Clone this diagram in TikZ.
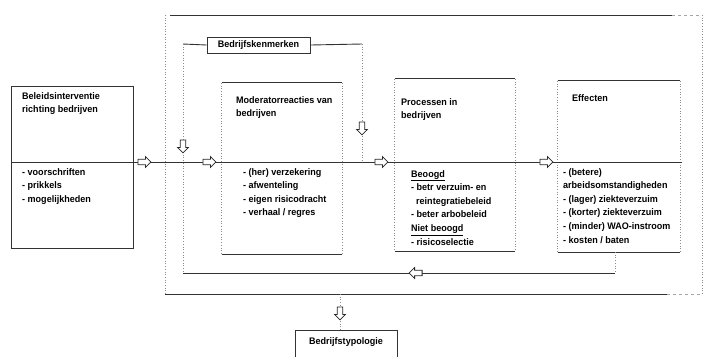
\documentclass[tikz,border=0pt]{standalone}
\usepackage{fontspec}
\setmainfont{Liberation Sans}[FakeStretch=0.95]
\usetikzlibrary{shapes.arrows}

\tikzset{
  lijn/.style={line width=0.9pt, black!80},
  stip/.style={dotted, line width=0.7pt, black!45},
  streep/.style={dashed, line width=0.6pt, black!35},
  tekst/.style={anchor=north west, align=left, inner sep=0pt, font=\fontsize{9.5}{13.6}\selectfont\bfseries},
  vak/.style={inner sep=0pt},
  pijl/.style={single arrow, draw=black!85, fill=white, line width=0.8pt, minimum height=13pt, minimum width=11pt, single arrow head extend=2.5pt, inner sep=2.2pt}
}

\begin{document}
\begin{tikzpicture}[x=1pt,y=-1pt]
	\useasboundingbox (0,0) rectangle (704,357);

	\coordinate (o1) at (165,15);
	\coordinate (o2) at (702,15);
	\coordinate (o3) at (702,294);
	\coordinate (o4) at (165,294);
	\draw[lijn] (170,15) -- (672,15);
	\draw[streep] (672,15) -- (o2);
	\draw[stip] (o2) -- (o3);
	\draw[lijn] (o4) -- (667,294);
	\draw[streep] (667,294) -- (o3);
	\draw[stip] (o1) -- (o4);

	\node[vak, minimum width=121, minimum height=161] (beleid) at (72.5,167.5) {};
	\node[vak, minimum width=120, minimum height=171] (mod) at (282,168.5) {};
	\node[vak, minimum width=120, minimum height=172] (proc) at (455,165) {};
	\node[vak, minimum width=122, minimum height=171] (eff) at (619,166.5) {};
	\node[vak, draw, lijn, minimum width=103, minimum height=16, text=black, font=\fontsize{9.5}{12}\selectfont\bfseries] (bkm) at (258.5,45) {Bedrijfskenmerken};

	\draw[lijn] (beleid.north west) rectangle (beleid.south east);
	\foreach \b in {mod,proc,eff} {
		\draw[lijn] (\b.north west) -- (\b.north east);
		\draw[lijn] (\b.south west) -- (\b.south east);
		\draw[stip] (\b.north west) -- (\b.south west);
		\draw[stip] (\b.north east) -- (\b.south east);
	}

	\coordinate (ml) at (12,162);
	\coordinate (mr) at (682,162);
	\draw[lijn] (ml) -- (mr);

	\coordinate (k1) at (183,44);
	\coordinate (k2) at (362,44);
	\coordinate (k3) at (362,162);
	\coordinate (k4) at (183,273);
	\coordinate (k5) at (615,273);
	\coordinate (k6) at (615,252);
	\draw[lijn] (k1) -- (bkm.west);
	\draw[lijn] (bkm.east) -- (k2);
	\draw[stip] (k1) -- (k4);
	\draw[stip] (k2) -- (k3);
	\draw[lijn] (k4) -- (k5);
	\draw[stip] (k6) -- (k5);

	\node[vak] (btyp) at (346,343.5) {};
	\draw[lijn] (295,357) |- (397,330) -- (397,357);
	\node[tekst, anchor=center] (btyptxt) at (346,342) {Bedrijfstypologie};
	\coordinate (t1) at (340,294);
	\coordinate (t2) at (340,330);
	\draw[stip] (t1) -- (t2);

	\node[pijl] (p1) at (143,162) {};
	\node[pijl] (p2) at (208,162) {};
	\node[pijl] (p3) at (380,162) {};
	\node[pijl] (p4) at (545,162) {};
	\node[pijl, shape border rotate=270] (p5) at (183,145) {};
	\node[pijl, shape border rotate=270] (p6) at (362,127) {};
	\node[pijl, shape border rotate=180] (p7) at (417,273) {};
	\node[pijl, shape border rotate=270] (p8) at (340,312) {};

	\node[tekst] (beleidkop) at (22,92) {Beleidsinterventie\\richting bedrijven};
	\node[tekst] (beleidlijst) at (22,168) {- voorschriften\\- prikkels\\- mogelijkheden};
	\node[tekst] (modkop) at (236,96) {Moderatorreacties van\\bedrijven};
	\node[tekst] (modlijst) at (243,168) {- (her) verzekering\\- afwenteling\\- eigen risicodracht\\- verhaal / regres};
	\node[tekst] (prockop) at (401,98) {Processen in\\bedrijven};
	\node[tekst] (proclijst) at (411,170) {\underline{Beoogd}\\- betr verzuim- en\\\hspace*{5pt}reintegratiebeleid\\- beter arbobeleid\\\underline{Niet beoogd}\\- risicoselectie};
	\node[tekst] (effkop) at (572,94) {Effecten};
	\node[tekst] (efflijst) at (563,168) {- (betere)\\arbeidsomstandigheden\\- (lager) ziekteverzuim\\- (korter) ziekteverzuim\\- (minder) WAO-instroom\\- kosten / baten};
\end{tikzpicture}
\end{document}
